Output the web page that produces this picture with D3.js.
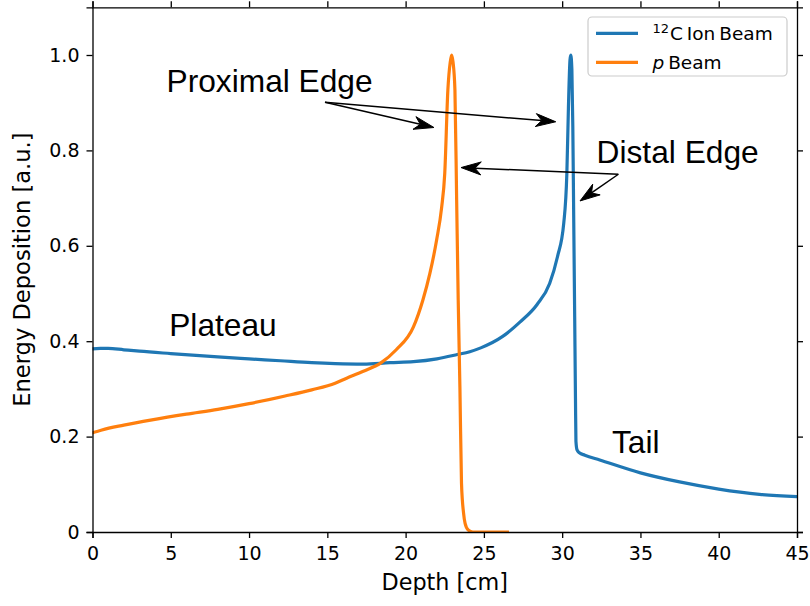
<!DOCTYPE html>
<html>
<head>
<meta charset="utf-8">
<script src="https://cdn.jsdelivr.net/npm/d3@7"></script>
<style>
  html, body { margin: 0; padding: 0; background: #ffffff; }
  svg { display: block; }
</style>
</head>
<body>
<svg id="chart" width="810" height="606"></svg>
<script>
// Depth-dose profiles: carbon ion beam and proton beam
const carbonDepth = [0, 0.5, 1, 2, 3, 5, 8, 10, 12, 14, 15.5, 17.3, 19, 20.5, 22, 23.3, 24.1, 24.8, 26.2, 27.3, 28.4, 29.2, 29.7, 30.1, 30.3, 30.4, 30.5, 30.55, 30.62, 30.68, 30.74, 30.8, 30.85, 30.88, 30.95, 31.1, 31.45, 32.4, 35, 37.5, 40, 42.6, 45];
const carbonDose  = [0.384, 0.385, 0.385, 0.382, 0.379, 0.374, 0.367, 0.363, 0.359, 0.355, 0.353, 0.352, 0.355, 0.357, 0.363, 0.372, 0.378, 0.386, 0.41, 0.44, 0.477, 0.521, 0.577, 0.647, 0.752, 0.89, 0.99, 1.0, 0.97, 0.85, 0.65, 0.45, 0.28, 0.19, 0.172, 0.166, 0.161, 0.151, 0.124, 0.105, 0.090, 0.079, 0.074];

const protonDepth = [0, 0.6, 2, 3.8, 6, 8, 10, 12.3, 14, 15.5, 16.2, 17.3, 18.4, 19.4, 20.5, 21.1, 21.55, 21.98, 22.3, 22.5, 22.7, 22.85, 22.94, 23.03, 23.15, 23.26, 23.36, 23.47, 23.57, 23.7, 23.8, 24.0, 24.3, 26.5];
const protonDose  = [0.208, 0.214, 0.224, 0.235, 0.247, 0.257, 0.269, 0.285, 0.298, 0.312, 0.322, 0.337, 0.354, 0.382, 0.43, 0.486, 0.542, 0.612, 0.68, 0.752, 0.927, 0.985, 1.0, 0.985, 0.927, 0.696, 0.486, 0.30, 0.102, 0.04, 0.018, 0.004, 0, 0];

const xTicks = [0, 5, 10, 15, 20, 25, 30, 35, 40, 45];
const yTicks = [0, 0.2, 0.4, 0.6, 0.8, 1.0];
const yTickLabels = ["0", "0.2", "0.4", "0.6", "0.8", "1.0"];

// Text annotations (data coordinates of the text baseline start)
const annotations = [
  { text: "Proximal Edge", x: 4.73, y: 0.923 },
  { text: "Plateau",       x: 4.9,  y: 0.411 },
  { text: "Distal Edge",   x: 32.2, y: 0.774 },
  { text: "Tail",          x: 33.18, y: 0.165 }
];
// Arrows: [from, to] in data coordinates
const arrows = [
  { from: [14.85, 0.901], to: [21.81, 0.848] },
  { from: [14.85, 0.901], to: [29.59, 0.860] },
  { from: [33.59, 0.750], to: [31.14, 0.694] },
  { from: [33.59, 0.750], to: [23.54, 0.764] }
];

const series = [
  { label: "C Ion Beam", sup: "12", depth: carbonDepth, dose: carbonDose, color: "#1f77b4" },
  { label: " Beam", italic: "p", depth: protonDepth, dose: protonDose, color: "#ff7f0e" }
];

const svg = d3.select("#chart");
const plotLeft = 92.5, plotRight = 797, plotTop = 7.3, plotBottom = 532;
const x = d3.scaleLinear().domain([0, 45]).range([plotLeft, plotRight]);
const y = d3.scaleLinear().domain([0, 1.1]).range([plotBottom, plotTop]);

const tickFont = "DejaVu Sans, sans-serif";

// Axes on all four sides, ticks pointing outward
const xAxis = d3.axisBottom(x).tickValues(xTicks).tickSize(6).tickPadding(5).tickFormat(d3.format("d"));
const yAxis = d3.axisLeft(y).tickValues(yTicks).tickSize(6).tickPadding(7).tickFormat((d, i) => yTickLabels[i]);
const xTop = d3.axisTop(x).tickValues(xTicks).tickSize(6).tickFormat("");
const yRight = d3.axisRight(y).tickValues(yTicks).tickSize(6).tickFormat("");

function styleAxis(g) {
  g.select(".domain").attr("stroke", "#000").attr("stroke-width", 1.3);
  g.selectAll(".tick line").attr("stroke", "#000").attr("stroke-width", 1.3);
  g.selectAll(".tick text").attr("fill", "#000").attr("font-family", tickFont).attr("font-size", 19);
}

// Clip curves to plot area
svg.append("defs").append("clipPath").attr("id", "plotClip")
  .append("rect").attr("x", plotLeft).attr("y", plotTop)
  .attr("width", plotRight - plotLeft).attr("height", plotBottom - plotTop);

const line = d3.line().x(d => x(d[0])).y(d => y(d[1])).curve(d3.curveMonotoneX);

const plot = svg.append("g").attr("clip-path", "url(#plotClip)");
series.forEach(s => {
  const pts = s.depth.map((d, i) => [d, s.dose[i]]);
  plot.append("path")
    .datum(pts)
    .attr("d", line)
    .attr("fill", "none")
    .attr("stroke", s.color)
    .attr("stroke-width", 3.2)
    .attr("stroke-linejoin", "round")
    .attr("stroke-linecap", "square");
});

svg.append("g").attr("transform", `translate(0,${plotBottom})`).call(xAxis).call(styleAxis)
  .selectAll(".tick text").attr("dy", "0.92em");
svg.append("g").attr("transform", `translate(${plotLeft},0)`).call(yAxis).call(styleAxis);
svg.append("g").attr("transform", `translate(0,${plotTop})`).call(xTop).call(styleAxis);
svg.append("g").attr("transform", `translate(${plotRight},0)`).call(yRight).call(styleAxis);

// Axis titles
svg.append("text")
  .attr("x", (plotLeft + plotRight) / 2).attr("y", 590)
  .attr("text-anchor", "middle")
  .attr("font-family", tickFont).attr("font-size", 22.3).attr("fill", "#000")
  .text("Depth [cm]");
svg.append("text")
  .attr("transform", `translate(30,${(plotTop + plotBottom) / 2}) rotate(-90)`)
  .attr("text-anchor", "middle")
  .attr("font-family", tickFont).attr("font-size", 22.6).attr("fill", "#000")
  .text("Energy Deposition [a.u.]");

// Annotation text
const annFont = "Liberation Sans, Arial, Helvetica, sans-serif";
svg.append("g").selectAll("text").data(annotations).join("text")
  .attr("x", d => x(d.x)).attr("y", d => y(d.y))
  .attr("font-family", annFont).attr("font-size", 31.7).attr("fill", "#000")
  .text(d => d.text);

// Arrows with stealth-shaped heads
const arrowG = svg.append("g");
arrows.forEach(a => {
  const x0 = x(a.from[0]), y0 = y(a.from[1]);
  const x1 = x(a.to[0]), y1 = y(a.to[1]);
  const ang = Math.atan2(y1 - y0, x1 - x0);
  const len = 20, hw = 6.5, notch = 14;
  const ca = Math.cos(ang), sa = Math.sin(ang);
  const pt = (u, v) => [x1 + u * ca - v * sa, y1 + u * sa + v * ca];
  const nb = pt(-notch, 0);
  arrowG.append("line")
    .attr("x1", x0).attr("y1", y0).attr("x2", nb[0]).attr("y2", nb[1])
    .attr("stroke", "#000").attr("stroke-width", 1.5);
  const p1 = pt(-len, -hw), p2 = pt(-notch, 0), p3 = pt(-len, hw);
  arrowG.append("path")
    .attr("d", `M${x1},${y1}L${p1[0]},${p1[1]}L${p2[0]},${p2[1]}L${p3[0]},${p3[1]}Z`)
    .attr("fill", "#000").attr("stroke", "#000").attr("stroke-width", 1).attr("stroke-linejoin", "miter");
});

// Legend
const lg = svg.append("g");
lg.append("rect")
  .attr("x", 588).attr("y", 17).attr("width", 199).attr("height", 59)
  .attr("rx", 4).attr("ry", 4)
  .attr("fill", "#ffffff").attr("fill-opacity", 0.8)
  .attr("stroke", "#cccccc").attr("stroke-width", 1.2);
const rowY = [33.3, 62.3];
series.forEach((s, i) => {
  lg.append("line")
    .attr("x1", 596).attr("x2", 638).attr("y1", rowY[i]).attr("y2", rowY[i])
    .attr("stroke", s.color).attr("stroke-width", 3.2);
  const t = lg.append("text")
    .attr("x", 652.5).attr("y", rowY[i] + 7)
    .attr("font-family", tickFont).attr("font-size", 18.5).attr("fill", "#000");
  if (s.sup) {
    t.append("tspan").attr("font-size", 13).attr("dy", -7).text(s.sup);
    t.append("tspan").attr("dy", 7).attr("dx", 1).attr("word-spacing", -2).text(s.label);
  } else {
    t.append("tspan").attr("font-style", "italic").text(s.italic);
    t.append("tspan").attr("word-spacing", -2).text(s.label);
  }
});
</script>
</body>
</html>
